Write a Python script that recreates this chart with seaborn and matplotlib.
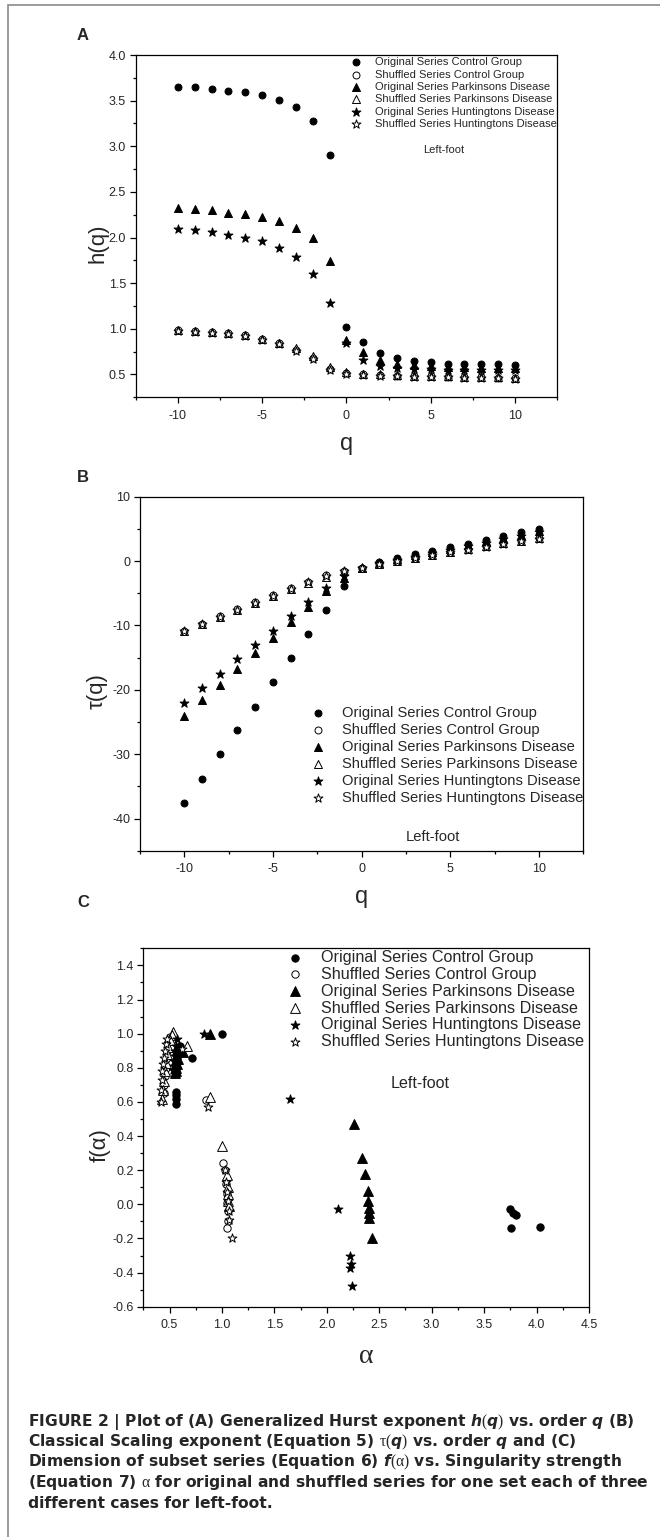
import matplotlib
matplotlib.use('Agg')
import matplotlib.pyplot as plt
import matplotlib.ticker as mticker
from matplotlib.patches import Rectangle
import pandas as pd
import seaborn as sns

# ---------------- data ----------------
series_names = ['Original Series Control Group', 'Shuffled Series Control Group',
                'Original Series Parkinsons Disease', 'Shuffled Series Parkinsons Disease',
                'Original Series Huntingtons Disease', 'Shuffled Series Huntingtons Disease']

q = list(range(-10, 11))

# panel A : h(q)
h_ctrl_orig = [3.65, 3.65, 3.63, 3.61, 3.59, 3.56, 3.51, 3.43, 3.28, 2.90, 1.02,
               0.86, 0.74, 0.68, 0.65, 0.64, 0.62, 0.62, 0.61, 0.61, 0.60]
h_ctrl_shuf = [0.99, 0.98, 0.97, 0.95, 0.93, 0.89, 0.84, 0.77, 0.68, 0.56, 0.52,
               0.50, 0.49, 0.48, 0.48, 0.48, 0.47, 0.47, 0.47, 0.46, 0.46]
h_pd_orig = [2.32, 2.31, 2.30, 2.27, 2.26, 2.22, 2.18, 2.11, 1.99, 1.74, 0.88,
             0.75, 0.66, 0.62, 0.60, 0.59, 0.58, 0.58, 0.57, 0.57, 0.57]
h_pd_shuf = [0.99, 0.98, 0.97, 0.95, 0.93, 0.89, 0.84, 0.79, 0.70, 0.58, 0.53,
             0.51, 0.50, 0.49, 0.48, 0.48, 0.48, 0.47, 0.47, 0.47, 0.46]
h_hd_orig = [2.09, 2.08, 2.06, 2.03, 2.00, 1.96, 1.89, 1.79, 1.60, 1.28, 0.84,
             0.66, 0.59, 0.57, 0.56, 0.56, 0.55, 0.55, 0.55, 0.55, 0.55]
h_hd_shuf = [0.98, 0.97, 0.96, 0.94, 0.92, 0.88, 0.83, 0.76, 0.67, 0.55, 0.51,
             0.49, 0.48, 0.48, 0.47, 0.47, 0.47, 0.46, 0.46, 0.46, 0.45]

# panel B : tau(q)
tau_ctrl_orig = [-37.6, -33.8, -30.0, -26.3, -22.6, -18.8, -15.1, -11.3, -7.6, -3.9, -1.0,
                 -0.14, 0.48, 1.04, 1.60, 2.20, 2.72, 3.34, 3.88, 4.49, 5.00]
tau_ctrl_shuf = [-10.8, -9.7, -8.6, -7.5, -6.4, -5.3, -4.2, -3.2, -2.2, -1.5, -1.0,
                 -0.5, -0.02, 0.44, 0.92, 1.40, 1.82, 2.29, 2.76, 3.14, 3.55]
tau_pd_orig = [-24.0, -21.6, -19.2, -16.8, -14.3, -11.9, -9.5, -7.1, -4.6, -2.7, -1.0,
               -0.24, 0.34, 0.90, 1.40, 1.95, 2.50, 3.05, 3.60, 4.10, 4.70]
tau_pd_shuf = [-10.9, -9.8, -8.7, -7.6, -6.5, -5.4, -4.4, -3.4, -2.4, -1.6, -1.0,
               -0.5, 0.0, 0.46, 0.93, 1.40, 1.85, 2.30, 2.76, 3.20, 3.60]
tau_hd_orig = [-22.0, -19.7, -17.5, -15.2, -13.0, -10.8, -8.6, -6.4, -4.1, -2.3, -1.0,
               -0.34, 0.18, 0.70, 1.24, 1.78, 2.30, 2.85, 3.40, 3.95, 4.50]
tau_hd_shuf = [-10.8, -9.7, -8.7, -7.6, -6.5, -5.4, -4.3, -3.3, -2.3, -1.55, -1.0,
               -0.51, -0.04, 0.42, 0.88, 1.35, 1.80, 2.22, 2.68, 3.12, 3.50]

# panel C : f(alpha) vs alpha
a_ctrl_orig = [4.03, 3.76, 3.80, 3.78, 3.75, 1.00, 0.71, 0.60, 0.58, 0.57, 0.57, 0.56,
               0.56, 0.56, 0.56, 0.56, 0.56]
f_ctrl_orig = [-0.13, -0.14, -0.06, -0.05, -0.03, 1.00, 0.86, 0.93, 0.90, 0.86, 0.83, 0.80,
               0.78, 0.66, 0.64, 0.62, 0.59]
a_ctrl_shuf = [0.85, 1.01, 1.03, 1.04, 1.05, 1.05, 1.06, 1.06, 1.05, 0.50, 0.49, 0.48,
               0.47, 0.47, 0.46, 0.45, 0.45]
f_ctrl_shuf = [0.61, 0.24, 0.20, 0.12, 0.06, 0.01, -0.04, -0.10, -0.14, 0.98, 0.95, 0.90,
               0.85, 0.80, 0.75, 0.70, 0.65]
a_pd_orig = [2.26, 2.34, 2.36, 2.39, 2.39, 2.40, 2.40, 2.40, 2.43, 0.89, 0.63, 0.58,
             0.57, 0.56, 0.56, 0.55]
f_pd_orig = [0.47, 0.27, 0.18, 0.08, 0.02, -0.02, -0.05, -0.08, -0.20, 1.00, 0.89, 0.85,
             0.82, 0.80, 0.78, 0.77]
a_pd_shuf = [0.89, 1.00, 1.05, 1.06, 1.06, 1.06, 1.07, 0.53, 0.67, 0.52, 0.50, 0.49,
             0.48, 0.47, 0.46, 0.45, 0.44, 0.43]
f_pd_shuf = [0.63, 0.34, 0.17, 0.10, 0.06, 0.02, -0.01, 1.01, 0.93, 0.99, 0.96, 0.92,
             0.88, 0.83, 0.78, 0.72, 0.67, 0.62]
a_hd_orig = [1.65, 2.11, 2.22, 2.23, 2.22, 2.24, 0.83, 0.57, 0.56, 0.55, 0.55, 0.54,
             0.54, 0.53]
f_hd_orig = [0.62, -0.03, -0.30, -0.35, -0.37, -0.48, 1.00, 0.97, 0.93, 0.90, 0.87, 0.84,
             0.81, 0.79]
a_hd_shuf = [0.42, 0.42, 0.43, 0.43, 0.44, 0.45, 0.46, 0.47, 0.48, 0.62, 0.87, 1.03,
             1.04, 1.05, 1.06, 1.07, 1.07, 1.10]
f_hd_shuf = [0.60, 0.67, 0.73, 0.78, 0.82, 0.86, 0.90, 0.94, 0.97, 0.91, 0.57, 0.20,
             0.13, 0.07, 0.02, -0.04, -0.09, -0.20]

caption_lines = [
    r'FIGURE 2 | Plot of (A) Generalized Hurst exponent $\mathbfit{h}\mathrm{(}\mathbfit{q}\mathrm{)}$ vs. order $\mathbfit{q}$ (B)',
    r'Classical Scaling exponent (Equation 5) $\mathrm{\tau(}\mathbfit{q}\mathrm{)}$ vs. order $\mathbfit{q}$ and (C)',
    r'Dimension of subset series (Equation 6) $\mathbfit{f}\mathrm{(\alpha)}$ vs. Singularity strength',
    r'(Equation 7) $\mathrm{\alpha}$ for original and shuffled series for one set each of three',
    'different cases for left-foot.',
]

# ---------------- style ----------------
sns.set_style('ticks')
plt.rcParams['font.family'] = ['Liberation Sans', 'DejaVu Sans']
plt.rcParams['axes.unicode_minus'] = False
plt.rcParams['mathtext.fontset'] = 'custom'
plt.rcParams['mathtext.rm'] = 'Liberation Serif'
plt.rcParams['mathtext.it'] = 'DejaVu Sans:italic'
plt.rcParams['mathtext.bf'] = 'DejaVu Sans:bold'
plt.rcParams['mathtext.bfit'] = 'DejaVu Sans:bold:italic'

markers = ['o', 'o', '^', '^', '*', '*']
filled = [True, False, True, False, True, False]


def draw_series(ax, xs, ys, sizes):
    for i in range(6):
        df = pd.DataFrame({'x': xs[i], 'y': ys[i]})
        sns.scatterplot(data=df, x='x', y='y', ax=ax, marker=markers[i],
                        s=sizes[markers[i]], color='black',
                        facecolor='black' if filled[i] else 'white',
                        edgecolor='black', linewidth=0.7,
                        label=series_names[i], legend=False, zorder=3 + i)


def style_axes(ax, xmaj, xmin, ymaj, ymin, xfmt, yfmt):
    for sp in ax.spines.values():
        sp.set_linewidth(0.9)
        sp.set_color('black')
    ax.xaxis.set_major_locator(mticker.MultipleLocator(xmaj))
    ax.xaxis.set_minor_locator(mticker.MultipleLocator(xmin))
    ax.yaxis.set_major_locator(mticker.MultipleLocator(ymaj))
    ax.yaxis.set_minor_locator(mticker.MultipleLocator(ymin))
    ax.xaxis.set_major_formatter(mticker.FormatStrFormatter(xfmt))
    ax.yaxis.set_major_formatter(mticker.FormatStrFormatter(yfmt))
    ax.tick_params(which='both', direction='out', top=False, right=False,
                   width=0.9, color='black')
    ax.tick_params(which='major', length=4)
    ax.tick_params(which='minor', length=2.2)
    ax.tick_params(axis='x', which='major', labelsize=9, pad=5)
    ax.tick_params(axis='y', which='major', labelsize=9, pad=3)


fig = plt.figure(figsize=(6.6, 15.37), dpi=100)
fig.patch.set_facecolor('white')

# panel A
axA = fig.add_axes([0.2056, 0.7415, 0.6385, 0.2227])
draw_series(axA, [q] * 6,
            [h_ctrl_orig, h_ctrl_shuf, h_pd_orig, h_pd_shuf, h_hd_orig, h_hd_shuf],
            {'o': 25, '^': 33, '*': 45})
axA.set_xlim(-12.5, 12.5)
axA.set_ylim(0.25, 4.0)
style_axes(axA, 5, 2.5, 0.5, 0.25, '%d', '%.1f')
axA.set_xlabel('q', fontsize=17, va='center')
axA.xaxis.set_label_coords(0.5, -0.136)
axA.set_ylabel('h(q)', fontsize=16, va='center')
axA.yaxis.set_label_coords(-0.0895, 0.45)
axA.legend(loc='upper left', bbox_to_anchor=(0.51, 0.994), frameon=False,
           fontsize=8, handlelength=1, handletextpad=1.2, labelspacing=0.22,
           borderpad=0, borderaxespad=0, scatterpoints=1)
axA.text(0.731, 0.7225, 'Left-foot', transform=axA.transAxes, fontsize=8,
         ha='center', va='center')

# panel B
axB = fig.add_axes([0.2121, 0.4465, 0.6715, 0.2303])
draw_series(axB, [q] * 6,
            [tau_ctrl_orig, tau_ctrl_shuf, tau_pd_orig, tau_pd_shuf, tau_hd_orig, tau_hd_shuf],
            {'o': 25, '^': 33, '*': 45})
axB.set_xlim(-12.5, 12.5)
axB.set_ylim(-45, 10)
style_axes(axB, 5, 2.5, 10, 5, '%d', '%d')
axB.set_xlabel('q', fontsize=17, va='center')
axB.xaxis.set_label_coords(0.5, -0.131)
axB.set_ylabel('τ(q)', fontsize=16, va='center')
axB.yaxis.set_label_coords(-0.097, 0.45)
axB.legend(loc='upper left', bbox_to_anchor=(0.385, 0.409), frameon=False,
           fontsize=10.6, handlelength=1, handletextpad=1.1, labelspacing=0.2,
           borderpad=0, borderaxespad=0, scatterpoints=1)
axB.text(0.661, 0.039, 'Left-foot', transform=axB.transAxes, fontsize=10.6,
         ha='center', va='center')

# panel C
axC = fig.add_axes([0.2171, 0.1498, 0.6753, 0.2332])
draw_series(axC,
            [a_ctrl_orig, a_ctrl_shuf, a_pd_orig, a_pd_shuf, a_hd_orig, a_hd_shuf],
            [f_ctrl_orig, f_ctrl_shuf, f_pd_orig, f_pd_shuf, f_hd_orig, f_hd_shuf],
            {'o': 28, '^': 50, '*': 45})
axC.set_xlim(0.25, 4.5)
axC.set_ylim(-0.6, 1.5)
style_axes(axC, 0.5, 0.25, 0.2, 0.1, '%.1f', '%.1f')
axC.set_xlabel('α', fontsize=20, va='center', family=['Liberation Serif', 'DejaVu Serif'])
axC.xaxis.set_label_coords(0.5, -0.1376)
axC.set_ylabel('f(α)', fontsize=16, va='center')
axC.yaxis.set_label_coords(-0.097, 0.45)
axC.legend(loc='upper left', bbox_to_anchor=(0.323, 0.996), frameon=False,
           fontsize=11.6, handlelength=1, handletextpad=1.1, labelspacing=0.12,
           borderpad=0, borderaxespad=0, scatterpoints=1)
axC.text(0.621, 0.623, 'Left-foot', transform=axC.transAxes, fontsize=11.6,
         ha='center', va='center')

# panel letters
for letter, ypx in [('A', 36), ('B', 477), ('C', 902)]:
    fig.text(83 / 660, 1 - ypx / 1537, letter, ha='center', va='center',
             fontsize=12, fontweight='bold')

# caption
for i, line in enumerate(caption_lines):
    ypx = 1421.7 + 20.4 * i
    fig.text(28 / 660, 1 - ypx / 1537, line, ha='left', va='center',
             fontsize=11.2, fontweight='bold', family=['DejaVu Sans'])

# outer frame
fig.patches.append(Rectangle((8 / 660, -0.01), 1.0, 1.01 - 5 / 1537,
                             transform=fig.transFigure, fill=False,
                             edgecolor='#8a8a8a', linewidth=1.2))

fig.savefig('out.png', dpi=100)
